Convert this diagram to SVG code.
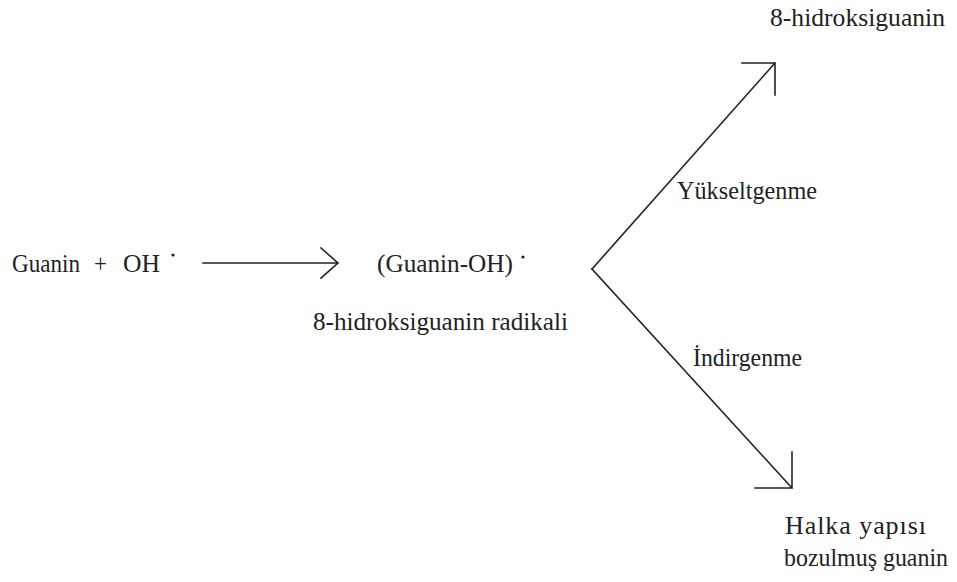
<svg xmlns="http://www.w3.org/2000/svg" width="957" height="582" viewBox="0 0 957 582">
<style>
text{font-family:"Liberation Serif","DejaVu Serif",serif;font-size:26px;fill:#222;}
.ln{stroke:#222;stroke-width:1.6;fill:none;stroke-linecap:square;}
</style>
<rect width="957" height="582" fill="#fff"/>
<g id="reactant"><text x="12" y="272" textLength="68" lengthAdjust="spacingAndGlyphs">Guanin</text><text x="94" y="272" textLength="13" lengthAdjust="spacingAndGlyphs">+</text><text x="123" y="272" textLength="37" lengthAdjust="spacingAndGlyphs">OH</text><circle cx="173" cy="255" r="1.6" fill="#222"/></g>
<g id="radical"><text x="377" y="272" textLength="136" lengthAdjust="spacingAndGlyphs">(Guanin-OH)</text><circle cx="523" cy="257" r="1.6" fill="#222"/>
<text x="313" y="330" textLength="255" lengthAdjust="spacingAndGlyphs">8-hidroksiguanin radikali</text></g>
<g id="product1"><text x="770" y="26" textLength="175" lengthAdjust="spacingAndGlyphs">8-hidroksiguanin</text></g>
<g id="product2"><text x="785" y="534" textLength="141" lengthAdjust="spacing">Halka yapısı</text><text x="948" y="566" font-size="24" text-anchor="end" textLength="164" lengthAdjust="spacingAndGlyphs">bozulmuş guanin</text></g>
<g id="connectors">
<path class="ln" d="M203 263H338M321 248L338 263L321 278"/>
<path class="ln" d="M592 269L775 63M742 63H775V95"/>
<path class="ln" d="M592 269L792 488M792 452V488H755"/>
<text x="677" y="199" textLength="140" lengthAdjust="spacingAndGlyphs">Yükseltgenme</text>
<text x="693" y="366" textLength="109" lengthAdjust="spacingAndGlyphs">İndirgenme</text>
</g>
</svg>
